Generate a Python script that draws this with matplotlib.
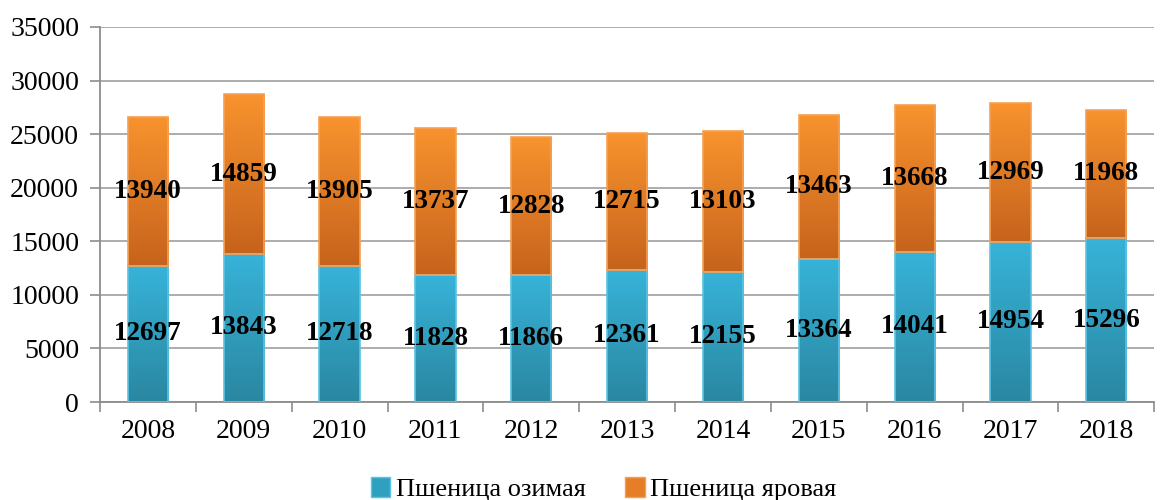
import numpy as np
import matplotlib.pyplot as plt
from matplotlib.patches import Patch
from matplotlib.colors import LinearSegmentedColormap

plt.rcParams["font.family"] = ["Liberation Serif", "DejaVu Serif"]

years = ['2008', '2009', '2010', '2011', '2012', '2013', '2014', '2015', '2016', '2017', '2018']
winter = [12697, 13843, 12718, 11828, 11866, 12361, 12155, 13364, 14041, 14954, 15296]
spring = [13940, 14859, 13905, 13737, 12828, 12715, 13103, 13463, 13668, 12969, 11968]
names = ['Пшеница озимая', 'Пшеница яровая']

blue_cm = LinearSegmentedColormap.from_list('b', ['#2a87a1', '#37b3d9'])
orange_cm = LinearSegmentedColormap.from_list('o', ['#c6631c', '#f8932e'])

fig = plt.figure(figsize=(11.65, 5), dpi=100)
ax = fig.add_axes([0.0858, 0.196, 0.905, 0.75])

x = np.arange(len(years))
w = 0.42
grad = np.linspace(0, 1, 256).reshape(-1, 1)

def gradient_bars(bars, cmap, edge):
    for b in bars:
        b.set_facecolor('none')
        b.set_edgecolor(edge)
        b.set_linewidth(1.2)
        bx, by = b.get_x(), b.get_y()
        im = ax.imshow(grad, cmap=cmap, origin='lower', aspect='auto',
                       extent=[bx, bx + b.get_width(), by, by + b.get_height()],
                       zorder=2)
        im.set_clip_path(b)

b1 = ax.bar(x, winter, w, zorder=3)
b2 = ax.bar(x, spring, w, bottom=winter, zorder=3)
gradient_bars(b1, blue_cm, '#5bc3e3')
gradient_bars(b2, orange_cm, '#f6a055')

for i in range(len(years)):
    ax.text(x[i], winter[i] / 2, str(winter[i]), ha='center', va='center',
            fontsize=19.5, fontweight='bold', zorder=5)
    ax.text(x[i], winter[i] + spring[i] / 2, str(spring[i]), ha='center', va='center',
            fontsize=19.5, fontweight='bold', zorder=5)

ax.set_xlim(-0.5, 10.5)
ax.set_ylim(0, 35000)
ax.set_yticks(np.arange(0, 35001, 5000))
ax.set_xticks(x)
ax.set_xticklabels(years)
ax.set_xticks(np.arange(-0.5, 11, 1), minor=True)
ax.tick_params(axis='x', which='major', length=0, labelsize=20, pad=12)
ax.tick_params(axis='x', which='minor', length=7, color='#8c8c8c', width=1.2)
ax.tick_params(axis='y', length=7, color='#8c8c8c', width=1.2, labelsize=20, pad=8)
ax.yaxis.grid(True, color='#a6a6a6', linewidth=1.3)
ax.set_axisbelow(True)
for s in ['top', 'right']:
    ax.spines[s].set_visible(False)
for s in ['left', 'bottom']:
    ax.spines[s].set_color('#8c8c8c')
    ax.spines[s].set_linewidth(1.3)

handles = [Patch(facecolor='#30a0c0', edgecolor='#5bc3e3'),
           Patch(facecolor='#e57e27', edgecolor='#f6a055')]
fig.legend(handles, names, loc='lower center', bbox_to_anchor=(0.518, -0.05), ncol=2,
           frameon=False, fontsize=19, handlelength=0.75, handleheight=0.75,
           handletextpad=0.2, columnspacing=1.5)

fig.savefig('out.png', dpi=100)
